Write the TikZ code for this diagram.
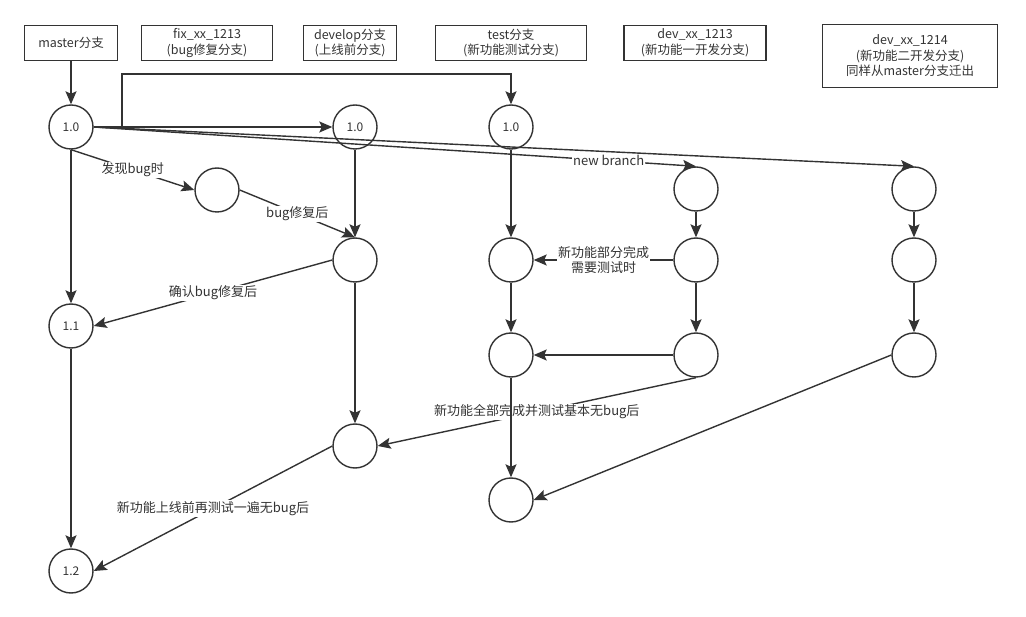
\documentclass[tikz,border=0pt]{standalone}
\usepackage{fontspec}
\setmainfont{Noto Sans CJK SC}
\usepackage{xcolor}
\usetikzlibrary{arrows.meta,positioning}
\definecolor{linegray}{HTML}{333333}

\begin{document}
\begin{tikzpicture}
        [   x = 1pt, y = -1pt
        ,   line width = 1.4pt
        ,   every node/.style = {text = linegray}
        ,   branch/.style =
            {   draw = linegray, line width = 1.3pt
            ,   minimum height = 35pt, align = center
            ,   font = \fontsize{12.5}{15.5}\selectfont
            }
        ,   commit/.style =
            {   draw = linegray, circle, minimum size = 44pt, inner sep = 0pt
            ,   font = \fontsize{12}{14}\selectfont
            }
        ,   arr/.style =
            {   draw = linegray
            ,   -{Stealth[length = 13pt, width = 11pt, inset = 2.5pt]}
            }
        ,   note/.style =
            {   fill = white, inner sep = 1pt, align = center
            ,   font = \fontsize{13}{15.5}\selectfont
            }
        ]
        \useasboundingbox (0,0) rectangle (1026,617);
        % branch headers
        \node [branch, minimum width = 93pt] (masterhead) at (71,43) {master分支};
        \node [branch, minimum width = 131pt] (fixhead) at (207,43) {fix\_xx\_1213\\(bug修复分支)};
        \node [branch, minimum width = 93pt] (develophead) at (350,43) {develop分支\\(上线前分支)};
        \node [branch, minimum width = 151pt] (testhead) at (511,43) {test分支\\(新功能测试分支)};
        \node [branch, minimum width = 142pt] (devahead) at (695,43) {dev\_xx\_1213\\(新功能一开发分支)};
        \node [branch, minimum width = 175pt, minimum height = 63pt] (devbhead) at (910,56) {dev\_xx\_1214\\(新功能二开发分支)\\同样从master分支迁出};
        % commits
        \node [commit] (m10) at (71,127) {1.0};
        \node [commit] (m11) at (71,326) {1.1};
        \node [commit] (m12) at (71,571) {1.2};
        \node [commit] (f1) at (217,190) {};
        \node [commit] (d10) at (355,127) {1.0};
        \node [commit] (d2) at (355,260) {};
        \node [commit] (d3) at (355,446) {};
        \node [commit] (t10) at (511,127) {1.0};
        \node [commit] (t2) at (511,260) {};
        \node [commit] (t3) at (511,355) {};
        \node [commit] (t4) at (511,500) {};
        \node [commit] (a0) at (696,189) {};
        \node [commit] (a1) at (696,260) {};
        \node [commit] (a2) at (696,355) {};
        \node [commit] (b0) at (914,189) {};
        \node [commit] (b1) at (914,260) {};
        \node [commit] (b2) at (914,355) {};
        \coordinate (split) at (122,127);
        \coordinate (splittop) at (122,74);
        % master
        \draw [arr] (masterhead) -- (m10);
        \draw [arr] (m10) -- (d10);
        \draw [arr] (split) -- (splittop) -| (t10);
        \draw [arr] (m10.east) -- node [note, pos = 0.855] {new branch} (a0.north);
        \draw [arr] (m10.east) -- (b0.north);
        \draw [arr] (m10) -- (m11);
        \draw [arr] (m11) -- (m12);
        % bug fix
        \draw [arr] (m10.south) -- node [note] {发现bug时} (f1.west);
        \draw [arr] (f1.east) -- node [note] {bug修复后} (d2.north);
        \draw [arr] (d2.west) -- node [note] {确认bug修复后} (m11.east);
        % develop
        \draw [arr] (d10) -- (d2);
        \draw [arr] (d2) -- (d3);
        \draw [arr] (d3.west) -- node [note] {新功能上线前再测试一遍无bug后} (m12.east);
        % dev branches
        \draw [arr] (a0) -- (a1);
        \draw [arr] (a1) -- (a2);
        \draw [arr] (b0) -- (b1);
        \draw [arr] (b1) -- (b2);
        \draw [arr] (a1) -- node [note] {新功能部分完成\\需要测试时} (t2);
        \draw [arr] (a2) -- (t3);
        \draw [arr] (a2.south) -- node [note] {新功能全部完成并测试基本无bug后} (d3.east);
        \draw [arr] (b2.west) -- (t4.east);
        % test
        \draw [arr] (t10) -- (t2);
        \draw [arr] (t2) -- (t3);
        \draw [arr] (t3) -- (t4);
    \end{tikzpicture}
\end{document}
